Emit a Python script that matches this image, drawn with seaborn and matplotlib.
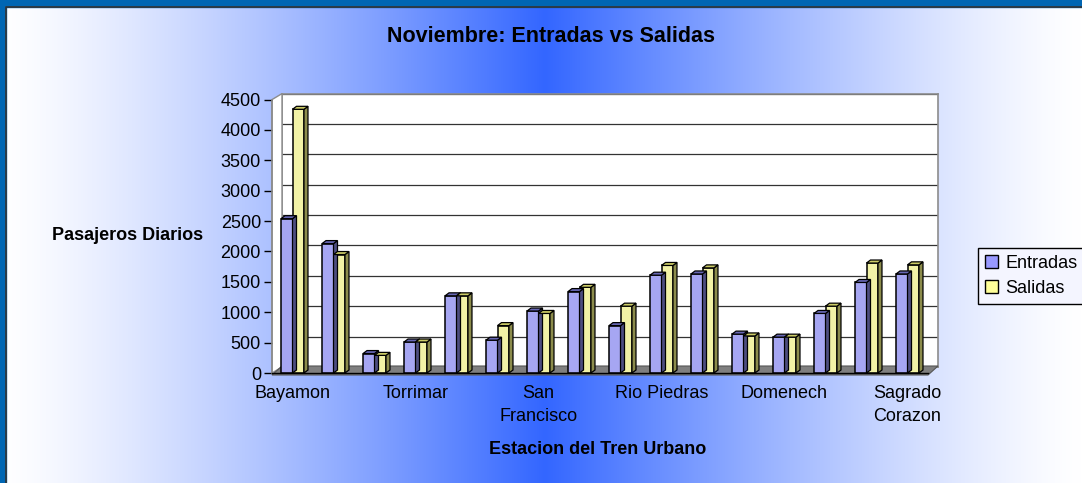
import numpy as np
import pandas as pd
import seaborn as sns
import matplotlib.pyplot as plt
from matplotlib.patches import Polygon, Rectangle

estaciones = ['Bayamon', 'Deportivo', 'Jardines', 'Torrimar', 'Martinez Nadal',
              'Las Lomas', 'San\nFrancisco', 'Centro Medico', 'Cupey', 'Rio Piedras',
              'Universidad', 'Piñero', 'Domenech', 'Roosevelt', 'Hato Rey',
              'Sagrado\nCorazon']
entradas = [2540, 2130, 320, 510, 1270, 540, 1020, 1340, 780, 1610, 1630, 640, 590, 980, 1490, 1630]
salidas = [4340, 1950, 290, 510, 1270, 780, 980, 1410, 1100, 1770, 1730, 610, 590, 1100, 1810, 1780]
etiquetas_x = ['Bayamon', '', '', 'Torrimar', '', '', 'San\nFrancisco', '', '',
               'Rio Piedras', '', '', 'Domenech', '', '', 'Sagrado\nCorazon']
y_ticks = [0, 500, 1000, 1500, 2000, 2500, 3000, 3500, 4000, 4500]

df = pd.DataFrame({'Estacion': estaciones * 2,
                   'Pasajeros': entradas + salidas,
                   'Serie': ['Entradas'] * 16 + ['Salidas'] * 16})

sns.set_style('white')
plt.rcParams['font.family'] = ['Liberation Sans', 'DejaVu Sans']
plt.rcParams['text.color'] = 'black'
plt.rcParams['xtick.color'] = 'black'
plt.rcParams['ytick.color'] = 'black'
plt.rcParams['xtick.labelcolor'] = 'black'
plt.rcParams['ytick.labelcolor'] = 'black'

W, H = 1082, 483
fig = plt.figure(figsize=(W / 100, H / 100), dpi=100)

# fondo con degradado horizontal blanco -> azul -> blanco
bg = fig.add_axes([0, 0, 1, 1], zorder=-10)
xs = np.linspace(0, 1, 600)
c = 545 / W
t = np.clip(1 - np.abs(xs - c) / np.where(xs < c, c, 1 - c), 0, 1) ** 1.3
blue = np.array([51, 102, 255]) / 255
col = (1 - t)[:, None] * np.ones(3) + t[:, None] * blue
bg.imshow(col[None, :, :], aspect='auto', extent=[0, 1, 0, 1])
bg.add_patch(Rectangle((0, 0), 6 / W, 1, color='#0066B3', transform=bg.transAxes))
bg.add_patch(Rectangle((0, 1 - 7 / H), 1, 7 / H, color='#0066B3', transform=bg.transAxes))
bg.plot([6 / W, 6 / W, 1], [0, 1 - 7 / H, 1 - 7 / H], color='#333333', lw=1.2)
bg.set_xlim(0, 1)
bg.set_ylim(0, 1)
bg.axis('off')

# posicion del plano frontal
x0, x1, y0, y1 = 272, 928, 373, 99.6
pos = [x0 / W, (H - y0) / H, (x1 - x0) / W, (y0 - y1) / H]
ddx, ddy = 10, 6  # profundidad de la pared del fondo

# pared del fondo con las lineas de la cuadricula
back = fig.add_axes([pos[0] + ddx / W, pos[1] + ddy / H, pos[2], pos[3]], zorder=-5)
back.set_facecolor('white')
back.set_ylim(0, 4500)
back.set_xlim(0, 1)
back.set_yticks(y_ticks)
back.grid(axis='y', color='#333333', lw=0.9)
back.set_xticks([])
back.tick_params(labelleft=False, left=False)
for s in back.spines.values():
    s.set_color('#8c8c8c')
    s.set_linewidth(1.2)

ax = fig.add_axes(pos, zorder=1)
ax.set_facecolor('none')

# pared izquierda y piso
fig.patches.append(Polygon([[x0, H - y0], [x0 + ddx, H - y0 + ddy], [x0 + ddx, H - y1 + ddy], [x0, H - y1]],
                           closed=True, facecolor='white', edgecolor='#8c8c8c', lw=1,
                           transform=None, zorder=-4, figure=fig))
fig.patches.append(Polygon([[x0, H - y0 - 2], [x1, H - y0 - 2], [x1 + ddx, H - y0 + ddy + 1], [x0 + ddx, H - y0 + ddy + 1]],
                           closed=True, facecolor='#7f7f7f', edgecolor='#555555', lw=0.8,
                           transform=None, zorder=-3, figure=fig))

sns.barplot(data=df, x='Estacion', y='Pasajeros', hue='Serie', ax=ax,
            palette=['#9999FF', '#FFFF99'], edgecolor='black', linewidth=1.1,
            width=0.56, gap=0, legend=False)

ax.set_xlim(-0.5, 15.5)
ax.set_ylim(0, 4500)

# efecto 3D de las barras
inv = ax.transData.inverted()
p0 = inv.transform((0, 0))
p1 = inv.transform((4, 3))
bx, by = p1 - p0
caras = [('#4d4d80', '#6666b3'), ('#8c8c4c', '#cccc66')]
for cont, (lado, tapa) in zip(ax.containers, caras):
    for bar in cont:
        bx0, bw, bh = bar.get_x(), bar.get_width(), bar.get_height()
        top = Polygon([[bx0, bh], [bx0 + bw, bh], [bx0 + bw + bx, bh + by], [bx0 + bx, bh + by]],
                      closed=True, facecolor=tapa, edgecolor='black', lw=0.9, zorder=bar.get_zorder())
        side = Polygon([[bx0 + bw, 0], [bx0 + bw + bx, by], [bx0 + bw + bx, bh + by], [bx0 + bw, bh]],
                       closed=True, facecolor=lado, edgecolor='black', lw=0.9, zorder=bar.get_zorder())
        ax.add_patch(side)
        ax.add_patch(top)

ax.set_yticks(y_ticks)
ax.set_yticklabels([str(v) for v in y_ticks], fontsize=13)
ax.set_xticks(range(16))
ax.set_xticklabels(etiquetas_x, fontsize=13, linespacing=1.4)
ax.set_xticks(np.arange(-0.5, 16, 1), minor=True)
ax.tick_params(axis='x', which='major', length=0, pad=9)
ax.tick_params(axis='x', which='minor', length=5, color='black', width=1, direction='out')
ax.tick_params(axis='y', length=6, color='black', width=1, direction='out', left=True, pad=2)
for k in ['top', 'right']:
    ax.spines[k].set_visible(False)
ax.spines['left'].set_color('#8c8c8c')
ax.spines['left'].set_linewidth(1.2)
ax.spines['bottom'].set_color('black')
ax.spines['bottom'].set_linewidth(1)
ax.set_xlabel('')
ax.set_ylabel('')

fig.text(551 / W, 1 - 37 / H, 'Noviembre: Entradas vs Salidas', ha='center', va='center',
         fontsize=15.5, fontweight='bold')
fig.text(52 / W, 1 - 235 / H, 'Pasajeros Diarios', ha='left', va='center',
         fontsize=13, fontweight='bold')
fig.text(598 / W, 1 - 450 / H, 'Estacion del Tren Urbano', ha='center', va='center',
         fontsize=13, fontweight='bold')

# leyenda
handles = [Rectangle((0, 0), 1, 1, facecolor='#9999FF', edgecolor='black'),
           Rectangle((0, 0), 1, 1, facecolor='#FFFF99', edgecolor='black')]
leg = fig.legend(handles, ['Entradas', 'Salidas'], loc='center left',
                 bbox_to_anchor=(978 / W, 1 - 276 / H), fontsize=13, frameon=True,
                 fancybox=False, edgecolor='black', facecolor='#f4f5ff', framealpha=1,
                 handlelength=0.7, handleheight=0.7, handletextpad=0.4,
                 borderpad=0.4, labelspacing=0.45, borderaxespad=0)
leg.get_frame().set_linewidth(1)

fig.savefig('out.png', dpi=100)
